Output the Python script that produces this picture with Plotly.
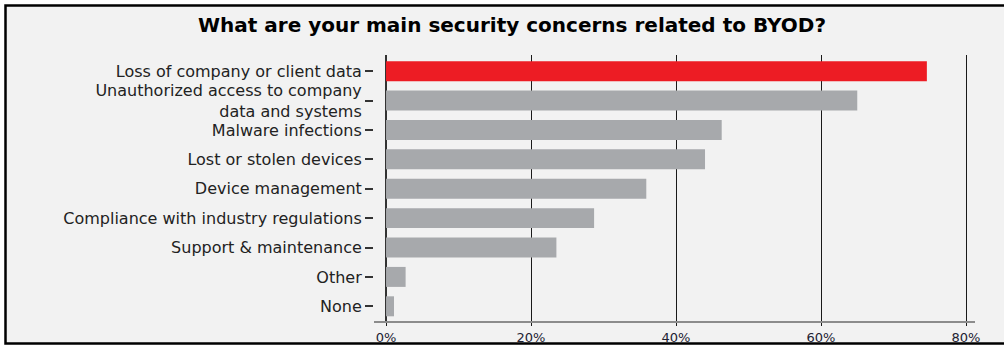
import plotly.graph_objects as go

categories = [
    "Loss of company or client data",
    "Unauthorized access to company<br>data and systems",
    "Malware infections",
    "Lost or stolen devices",
    "Device management",
    "Compliance with industry regulations",
    "Support & maintenance",
    "Other",
    "None",
]
values = [74.6, 65.0, 46.3, 44.0, 35.9, 28.7, 23.5, 2.7, 1.1]
bar_colors = ["#ed1c24"] + ["#a7a9ac"] * 8
tick_vals = [0, 20, 40, 60, 80]
tick_text = ["0%", "20%", "40%", "60%", "80%"]
title_text = "What are your main security concerns related to BYOD?"

fig = go.Figure(
    go.Bar(
        x=values,
        y=categories,
        orientation="h",
        marker=dict(color=bar_colors, line=dict(width=0)),
        hoverinfo="x+y",
    )
)

W, H = 1004, 345
ml, mr, mt, mb = 374, 29, 55, 24
pw = W - ml - mr
ph = H - mt - mb

def px_to_paper_x(px):
    return (px - ml) / pw

def px_to_paper_y(py):
    return (H - mb - py) / ph

fig.add_shape(
    type="rect",
    xref="paper", yref="paper",
    x0=px_to_paper_x(5.5), x1=px_to_paper_x(1015),
    y0=px_to_paper_y(343.5), y1=px_to_paper_y(5.5),
    fillcolor="#f2f2f2",
    line=dict(color="black", width=2.5),
    layer="below",
)

fig.update_layout(
    width=W, height=H,
    margin=dict(l=ml, r=mr, t=mt, b=mb, pad=0, autoexpand=False),
    paper_bgcolor="white",
    plot_bgcolor="rgba(0,0,0,0)",
    bargap=0.32,
    showlegend=False,
    font=dict(family="DejaVu Sans, Arial, sans-serif", color="#222222"),
    title=dict(
        text="<b>" + title_text + "</b>",
        x=512 / W,
        xanchor="center",
        y=1 - 25 / H,
        yanchor="middle",
        font=dict(family="DejaVu Sans, Arial, sans-serif", size=20, color="black"),
    ),
    xaxis=dict(
        range=[-1.66, 81.24],
        tickvals=tick_vals,
        ticktext=tick_text,
        showgrid=True,
        gridcolor="#1a1a1a",
        gridwidth=1.2,
        zeroline=True,
        zerolinecolor="#333333",
        zerolinewidth=2,
        showline=True,
        linecolor="#8c8c8c",
        linewidth=2,
        ticks="outside",
        ticklen=3,
        tickwidth=1.2,
        tickcolor="#1a1a1a",
        tickfont=dict(size=13, color="#222233"),
        automargin=False,
        fixedrange=True,
    ),
    yaxis=dict(
        categoryorder="array",
        categoryarray=categories,
        range=[8.5, -0.55],
        showgrid=False,
        zeroline=False,
        ticks="outside",
        ticklen=8,
        tickwidth=1.5,
        tickcolor="#333333",
        tickfont=dict(size=16, color="#222222"),
        automargin=False,
        fixedrange=True,
    ),
)

fig.write_html(
    "out.html",
    config={"displayModeBar": False},
    post_script="document.body.style.margin='0';document.body.style.padding='0';",
)
